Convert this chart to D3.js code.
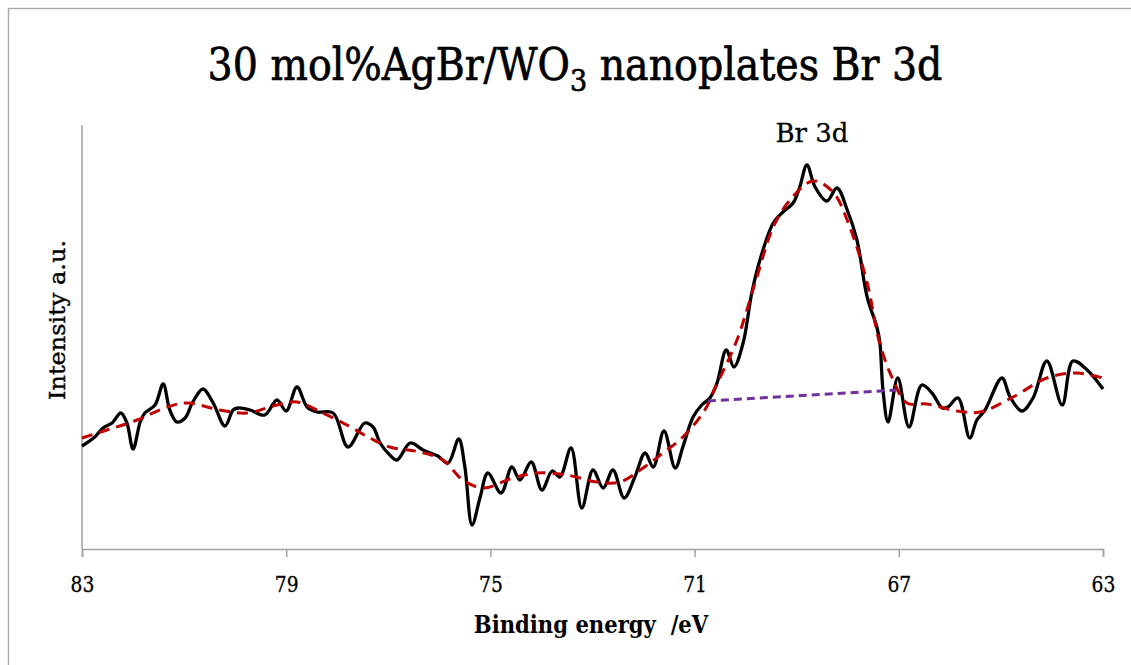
<!DOCTYPE html>
<html>
<head>
<meta charset="utf-8">
<script src="https://cdn.jsdelivr.net/npm/d3@7"></script>
<style>
  html, body { margin: 0; padding: 0; background: #fff; }
  svg { display: block; }
</style>
</head>
<body>
<div id="chart"></div>
<script>
// measured spectrum (binding energy eV, intensity a.u.)
const energy = [83.00, 82.75, 82.59, 82.41, 82.24, 82.12, 82.00, 81.86, 81.77, 81.57, 81.41, 81.28, 81.14, 80.98, 80.83, 80.63, 80.43, 80.20, 80.04, 79.94, 79.71, 79.42, 79.18, 79.00, 78.79, 78.59, 78.40, 78.08, 77.79, 77.46, 77.30, 77.16, 76.97, 76.83, 76.57, 76.32, 76.03, 75.83, 75.62, 75.50, 75.36, 75.20, 75.05, 74.79, 74.58, 74.42, 74.20, 73.99, 73.79, 73.64, 73.42, 73.21, 72.99, 72.79, 72.60, 72.38, 72.17, 71.97, 71.81, 71.60, 71.38, 71.23, 71.03, 70.86, 70.70, 70.56, 70.38, 70.23, 70.05, 69.88, 69.72, 69.46, 69.27, 69.07, 68.94, 68.80, 68.64, 68.41, 68.21, 68.01, 67.82, 67.62, 67.43, 67.37, 67.31, 67.21, 67.02, 66.80, 66.55, 66.35, 66.15, 66.04, 65.84, 65.61, 65.47, 65.31, 64.98, 64.82, 64.59, 64.37, 64.10, 63.80, 63.59, 63.31, 63.00];
const intensity = [103, 112, 121, 126, 136, 126, 100, 127, 136, 144, 165, 139, 127, 131, 147, 160, 146, 123, 139, 141, 139, 134, 149, 138, 162, 142, 137, 136, 102, 126, 122, 106, 94, 89, 106, 99, 93, 86, 110, 82, 24, 52, 76, 56, 82, 69, 87, 59, 78, 72, 101, 41, 79, 61, 79, 51, 72, 96, 82, 118, 81, 102, 132, 144, 151, 166, 199, 182, 206, 256, 289, 326, 337, 346, 362, 384, 362, 348, 361, 339, 309, 252, 222, 206, 159, 127, 171, 122, 164, 156, 141, 142, 151, 111, 129, 139, 171, 152, 138, 151, 188, 144, 188, 179, 160];

// fitted envelope
const fitEnergy = [83.00, 82.51, 81.92, 81.33, 80.94, 80.30, 79.77, 79.18, 78.79, 78.28, 77.81, 77.36, 76.97, 76.38, 75.93, 75.54, 75.14, 74.56, 74.09, 73.50, 72.91, 72.46, 72.01, 71.62, 71.23, 70.80, 70.60, 70.17, 69.78, 69.46, 69.13, 68.68, 68.29, 67.96, 67.62, 67.37, 67.11, 66.84, 66.45, 65.86, 65.41, 64.76, 64.10, 63.51, 63.00];
const fitIntensity = [111, 119, 129, 142, 146, 139, 136, 144, 147, 136, 124, 111, 102, 97, 89, 69, 61, 71, 76, 74, 67, 67, 81, 96, 112, 139, 161, 209, 272, 322, 349, 368, 357, 322, 266, 205, 169, 146, 145, 138, 137, 152, 171, 176, 171];

// background (baseline) line under the peak
const bgEnergy = [70.74, 67.05];
const bgIntensity = [148, 159];

const xTicks = [83, 79, 75, 71, 67, 63];

const width = 1131;
const height = 665;
const margin = { left: 82, right: 28, top: 125, bottom: 116 };

const svg = d3
  .select('#chart')
  .append('svg')
  .attr('width', width)
  .attr('height', height);

const serif = "'DejaVu Serif', 'Liberation Serif', serif";

// squeeze a text horizontally so it spans `target` px around its anchor
function fitWidth(sel, target, cx, cy) {
  const w = sel.node().getBBox().width;
  const k = target / w;
  sel.attr('transform', `translate(${cx},${cy}) scale(${k},1) translate(${-cx},${-cy})`);
}

// outer chart frame (right and bottom run off the picture)
svg
  .append('rect')
  .attr('x', 8.5)
  .attr('y', 8.5)
  .attr('width', width + 20)
  .attr('height', height + 20)
  .attr('fill', 'none')
  .attr('stroke', '#a6a6a6')
  .attr('stroke-width', 1.3);

const x = d3
  .scaleLinear()
  .domain([83, 63])
  .range([margin.left, width - margin.right]);

const y = d3
  .scaleLinear()
  .domain([0, 424])
  .range([height - margin.bottom, margin.top]);

// axes
const xAxis = svg
  .append('g')
  .attr('transform', `translate(0,${height - margin.bottom})`)
  .call(d3.axisBottom(x).tickValues(xTicks).tickSize(8).tickPadding(19).tickFormat(d3.format('d')));
xAxis.select('.domain').attr('stroke', '#a0a0a0').attr('stroke-width', 1.5);
xAxis.selectAll('.tick line').attr('stroke', '#a0a0a0').attr('stroke-width', 1.5);
xAxis
  .selectAll('.tick text')
  .attr('fill', '#000')
  .attr('stroke', '#000')
  .attr('stroke-width', 0.3)
  .style('font-family', serif)
  .style('font-size', '22px')
  .attr('transform', 'scale(0.85,1)');

svg
  .append('line')
  .attr('x1', margin.left)
  .attr('x2', margin.left)
  .attr('y1', margin.top)
  .attr('y2', height - margin.bottom)
  .attr('stroke', '#a0a0a0')
  .attr('stroke-width', 1.5);

const toPoints = (xs, ys) => xs.map((e, i) => [e, ys[i]]);

const line = d3
  .line()
  .x(d => x(d[0]))
  .y(d => y(d[1]))
  .curve(d3.curveCatmullRom.alpha(0.5));

// raw data
svg
  .append('path')
  .datum(toPoints(energy, intensity))
  .attr('fill', 'none')
  .attr('stroke', '#000')
  .attr('stroke-width', 3.3)
  .attr('stroke-linejoin', 'round')
  .attr('d', line);

// fit
svg
  .append('path')
  .datum(toPoints(fitEnergy, fitIntensity))
  .attr('fill', 'none')
  .attr('stroke', '#c00000')
  .attr('stroke-width', 3)
  .attr('stroke-dasharray', '11,7')
  .attr('d', line);

// background
svg
  .append('path')
  .datum(toPoints(bgEnergy, bgIntensity))
  .attr('fill', 'none')
  .attr('stroke', '#7030a0')
  .attr('stroke-width', 3)
  .attr('stroke-dasharray', '8,5')
  .attr('d', d3.line().x(d => x(d[0])).y(d => y(d[1])));

// title
const title = svg
  .append('text')
  .attr('x', 575)
  .attr('y', 80)
  .attr('text-anchor', 'middle')
  .attr('stroke', '#000')
  .attr('stroke-width', 0.7)
  .style('font-family', serif)
  .style('font-size', '44px');
title.append('tspan').text('30 mol%AgBr/WO');
title.append('tspan').attr('dy', 11).style('font-size', '30px').text('3');
title.append('tspan').attr('dy', -11).text(' nanoplates Br 3d');
fitWidth(title, 735, 575, 80);

// peak label
const peak = svg
  .append('text')
  .attr('x', 812)
  .attr('y', 142)
  .attr('text-anchor', 'middle')
  .attr('stroke', '#000')
  .attr('stroke-width', 0.3)
  .style('font-family', serif)
  .style('font-size', '26px')
  .text('Br 3d');
fitWidth(peak, 73, 812, 142);

// axis titles
const xTitle = svg
  .append('text')
  .attr('x', 591)
  .attr('y', 633)
  .attr('text-anchor', 'middle')
  .style('font-family', serif)
  .style('font-size', '24px')
  .style('font-weight', 'bold')
  .style('white-space', 'pre')
  .text('Binding energy  /eV');
fitWidth(xTitle, 235, 591, 633);

svg
  .append('text')
  .attr('transform', 'translate(65,320) rotate(-90)')
  .attr('text-anchor', 'middle')
  .attr('stroke', '#000')
  .attr('stroke-width', 0.4)
  .style('font-family', serif)
  .style('font-size', '23px')
  .attr('textLength', 160)
  .attr('lengthAdjust', 'spacingAndGlyphs')
  .text('Intensity a.u.');
</script>
</body>
</html>
